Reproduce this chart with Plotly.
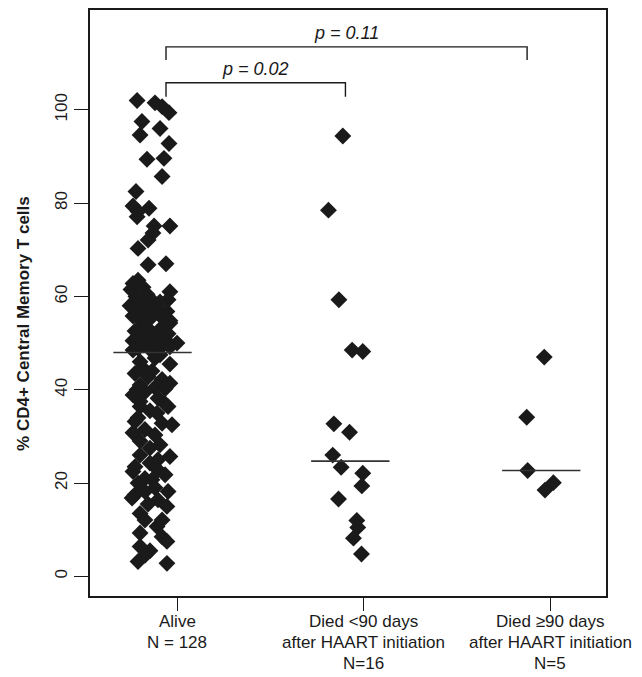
import numpy as np
import plotly.graph_objects as go

# ---------------- data ----------------
group_pos = [1, 2, 3]
group_label_lines = [
    ["Alive", "N = 128"],
    ["Died &lt;90 days", "after HAART initiation", "N=16"],
    ["Died \u226590 days", "after HAART initiation", "N=5"],
]

alive_values = [
    102.0, 101.5, 100.7, 99.4, 97.5, 96.0, 94.6, 92.8, 89.4, 89.6,
    85.7, 82.5, 79.4, 78.9, 78.2, 77.1, 75.1, 75.1, 73.6, 72.1,
    70.3, 67.0, 66.8, 63.5, 62.8, 62.0, 61.5, 61.0, 60.5, 60.0,
    59.3, 59.0, 58.5, 58.0, 57.5, 57.0, 56.5, 56.0, 55.8, 55.5,
    55.2, 55.0, 54.8, 56.8, 58.8, 54.3, 53.5, 53.0, 52.6, 52.3,
    52.0, 51.7, 51.3, 51.0, 50.8, 50.5, 50.0, 49.8, 49.6, 49.4,
    49.2, 48.9, 48.7, 48.5, 47.5, 46.8, 46.0, 45.5, 44.6, 44.0,
    43.5, 42.8, 42.2, 41.4, 41.0, 40.5, 40.0, 40.2, 39.5, 38.9,
    38.2, 37.5, 37.0, 36.4, 36.4, 35.5, 35.0, 34.0, 33.2, 32.8,
    32.5, 31.5, 30.8, 30.3, 29.0, 28.2, 27.5, 26.0, 25.7, 25.0,
    24.3, 23.5, 22.8, 22.5, 21.8, 21.0, 20.7, 20.0, 19.0, 18.2,
    18.2, 17.5, 16.8, 16.4, 15.5, 15.0, 13.5, 12.1, 12.1, 10.7,
    9.3, 8.5, 7.5, 6.4, 5.5, 4.5, 3.2, 2.8,
]
alive_jitter = [
    -0.214, -0.118, -0.080, -0.043, -0.188, -0.091, -0.198, -0.043, -0.161, -0.070,
    -0.080, -0.220, -0.236, -0.150, -0.209, -0.214, -0.123, -0.038, -0.129, -0.155,
    -0.209, -0.059, -0.155, -0.209, -0.236, -0.182, -0.247, -0.038, -0.161, -0.220,
    -0.048, -0.129, -0.193, -0.252, -0.145, -0.209, -0.102, -0.172, -0.236, -0.080,
    -0.145, -0.198, -0.038, -0.054, -0.091, -0.038, -0.172, -0.091, -0.225, -0.134,
    -0.048, -0.198, -0.102, -0.155, -0.064, -0.236, 0.000, -0.129, -0.182, -0.080,
    -0.038, -0.209, -0.145, -0.236, -0.091, -0.118, -0.198, -0.038, -0.182, -0.134,
    -0.225, -0.155, -0.080, -0.038, -0.198, -0.118, -0.214, -0.064, -0.172, -0.236,
    -0.102, -0.198, -0.064, -0.198, -0.048, -0.145, -0.107, -0.209, -0.225, -0.080,
    -0.027, -0.172, -0.236, -0.118, -0.198, -0.091, -0.145, -0.198, -0.038, -0.102,
    -0.145, -0.225, -0.102, -0.236, -0.064, -0.172, -0.134, -0.209, -0.118, -0.172,
    -0.048, -0.225, -0.241, -0.102, -0.155, -0.054, -0.198, -0.172, -0.080, -0.107,
    -0.198, -0.080, -0.054, -0.198, -0.145, -0.172, -0.209, -0.054,
]

early_values = [94.4, 78.5, 59.3, 48.5, 48.2, 32.7, 30.9, 26.0,
                23.4, 22.1, 19.4, 16.6, 12.0, 10.5, 8.2, 4.8]
early_jitter = [-0.111, -0.188, -0.132, -0.061, -0.004, -0.159, -0.075, -0.165,
                -0.120, -0.004, -0.009, -0.134, -0.036, -0.031, -0.054, -0.011]

late_values = [47.0, 34.1, 22.7, 18.5, 20.1]
late_jitter = [-0.031, -0.125, -0.120, -0.027, 0.018]

y_ticks = [0, 20, 40, 60, 80, 100]

# comparisons: (from group, to group, label)
comparisons = [(1, 3, "p = 0.11"), (1, 2, "p = 0.02")]

# ---------------- figure ----------------
groups = [(alive_values, alive_jitter), (early_values, early_jitter), (late_values, late_jitter)]
INK = "#1a1a1a"
FONT = "Arial"

fig = go.Figure()
for pos, (vals, jit) in zip(group_pos, groups):
    xs = [pos + j for j in jit]
    fig.add_trace(go.Scatter(
        x=xs, y=vals, mode="markers",
        marker=dict(symbol="diamond", size=13, color=INK, line=dict(width=0)),
        hoverinfo="y",
    ))
    med = float(np.median(vals))
    cx = float(np.mean(xs)) + 0.01
    half = 0.21
    fig.add_trace(go.Scatter(
        x=[cx - half, cx + half], y=[med, med], mode="lines",
        line=dict(color="#333333", width=1.6), hoverinfo="skip",
    ))

# brackets with p-values
bracket_specs = [
    # (left x, right x, bar y, drop y)
    (0.941, 2.877, 113.5, 110.7),
    (0.941, 1.903, 105.8, 102.8),
]
for (g0, g1, label), (xl, xr, yb, yd) in zip(comparisons, bracket_specs):
    fig.add_trace(go.Scatter(
        x=[xl, xl, xr, xr], y=[yd, yb, yb, yd], mode="lines",
        line=dict(color=INK, width=1.4), hoverinfo="skip",
    ))
    fig.add_annotation(
        x=(xl + xr) / 2, y=yb + 3.0, text="<i>" + label + "</i>",
        showarrow=False, xref="x", yref="y", xanchor="center", yanchor="middle",
        font=dict(family=FONT, size=18, color=INK),
    )

# category labels (one annotation per text line, below each tick)
LINE_STEP = 21
FIRST_LINE = 25
for pos, lines in zip(group_pos, group_label_lines):
    for i, line in enumerate(lines):
        fig.add_annotation(
            x=pos, y=0, xref="x", yref="paper", text=line,
            xanchor="center", yanchor="middle",
            yshift=-(FIRST_LINE + i * LINE_STEP),
            showarrow=False, font=dict(family=FONT, size=17, color=INK),
        )

fig.add_annotation(
    text="<b>% CD4+ Central Memory T cells</b>",
    xref="paper", yref="paper", x=-0.128, y=0.466,
    xanchor="center", yanchor="middle",
    textangle=-90, showarrow=False,
    font=dict(family=FONT, size=17, color=INK),
)

fig.update_layout(
    template="none",
    width=642, height=677,
    margin=dict(l=90, r=36, t=10, b=81, autoexpand=False),
    plot_bgcolor="white", paper_bgcolor="white",
    showlegend=False,
    font=dict(family=FONT, size=17, color=INK),
)
fig.update_xaxes(
    automargin=False,
    range=[0.5335, 3.30], tickmode="array", tickvals=group_pos,
    showticklabels=False,
    ticks="outside", ticklen=13, tickwidth=1.4, tickcolor=INK,
    showline=True, mirror=True, linecolor=INK, linewidth=1.5,
    showgrid=False, zeroline=False,
)
fig.update_yaxes(
    automargin=False,
    range=[-4.2, 121.4], tickmode="array", tickvals=y_ticks,
    ticks="outside", ticklen=14, tickwidth=1.4, tickcolor=INK, tickangle=-90,
    showline=True, mirror=True, linecolor=INK, linewidth=1.5,
    showgrid=False, zeroline=False, tickfont=dict(family=FONT, size=17, color=INK),
)

# remove the browser's default page margin so the figure fills the window
fig.write_html(
    "out.html",
    config={"displayModeBar": False},
    post_script="document.body.style.margin='0px';document.body.style.overflow='hidden';",
)
